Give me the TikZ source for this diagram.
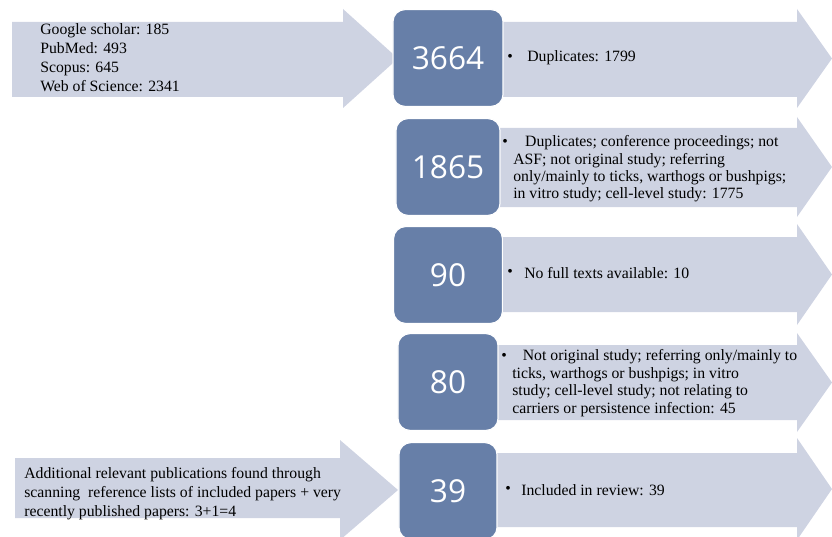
\documentclass[tikz,border=0pt]{standalone}
\usepackage{fontspec}
\setmainfont{Liberation Serif}
\newfontfamily\numfont{Open Sans}
\usepackage{xcolor}
\usetikzlibrary{positioning}

\definecolor{arrowfill}{RGB}{206,211,226}
\definecolor{boxfill}{RGB}{103,127,168}

% block arrow: x left, x neck, x tip, body top, body bottom, head top, head bottom
\newcommand{\blockarrow}[7]{%
  \fill[arrowfill] (#1,#4) -- (#2,#4) -- (#2,#6) -- (#3,{(#6+#7)/2})
    -- (#2,#7) -- (#2,#5) -- (#1,#5) -- cycle;}

\begin{document}
\begin{tikzpicture}[x=0.025cm,y=-0.025cm]

\tikzset{
    countbox/.style = {
    draw=white, line width=0.8pt, fill=boxfill, rounded corners=0.3cm,
    minimum height=2.42cm, text=white,
    font=\numfont\fontsize{22.5}{24}\selectfont
    },
    note/.style = {
    inner sep=0pt, align=left, anchor=west,
    font=\fontsize{11.2}{12.4}\selectfont
    },
    source/.style = {note, font=\fontsize{11.2}{13.5}\selectfont},
    dot/.style = {inner sep=0pt, font=\fontsize{11.2}{12.4}\selectfont}
}

\useasboundingbox (0,0) rectangle (832,537);

% arrows
\blockarrow{12}{343}{398}{22}{97}{9}{108}
\blockarrow{480}{797}{832}{22}{97}{9}{108}
\blockarrow{480}{797}{832}{128}{207}{117}{217}
\blockarrow{480}{797}{832}{237}{312}{224}{325}
\blockarrow{480}{797}{832}{345}{420}{333}{432}
\blockarrow{480}{797}{832}{453}{527}{438}{540}
\blockarrow{15}{340}{398}{458}{518}{440}{540}

% counts
\node (n3664) [countbox, minimum width=2.75cm] at (448,58) {3664};
\node (n1865) [countbox, minimum width=2.6cm] at (448,167) {1865};
\node (n90) [countbox, minimum width=2.72cm] at (448,275) {90};
\node (n80) [countbox, minimum width=2.5cm] at (448,382) {80};
\node (n39) [countbox, minimum width=2.45cm] at (448,491) {39};

% sources
\node (src) [source] at (40,58) {Google scholar: 185\\PubMed: 493\\Scopus: 645\\Web of Science: 2341};
\node (extra) [source] at (24,494) {Additional relevant publications found through\\
scanning\ \ reference lists of included papers + very\\
recently published papers: 3+1=4};

% exclusions
\node (d3664) [dot] at (510,58) {\textbullet};
\node (e3664) [note] at (527,58) {Duplicates: 1799};

\node (d1865) [dot] at (505,143) {\textbullet};
\node (e1865) [note] at (513,169) {\hspace*{8.5pt}Duplicates; conference proceedings; not\\
ASF; not original study; referring\\
only/mainly to ticks, warthogs or bushpigs;\\
in vitro study; cell-level study: 1775};

\node (d90) [dot] at (510,273) {\textbullet};
\node (e90) [note] at (524,273) {No full texts available: 10};

\node (d80) [dot] at (504,357) {\textbullet};
\node (e80) [note] at (512,383) {\hspace*{7.5pt}Not original study; referring only/mainly to\\
ticks, warthogs or bushpigs; in vitro\\
study; cell-level study; not relating to\\
carriers or persistence infection: 45};

\node (d39) [dot] at (508,490) {\textbullet};
\node (e39) [note] at (521,490) {Included in review: 39};

\end{tikzpicture}
\end{document}
